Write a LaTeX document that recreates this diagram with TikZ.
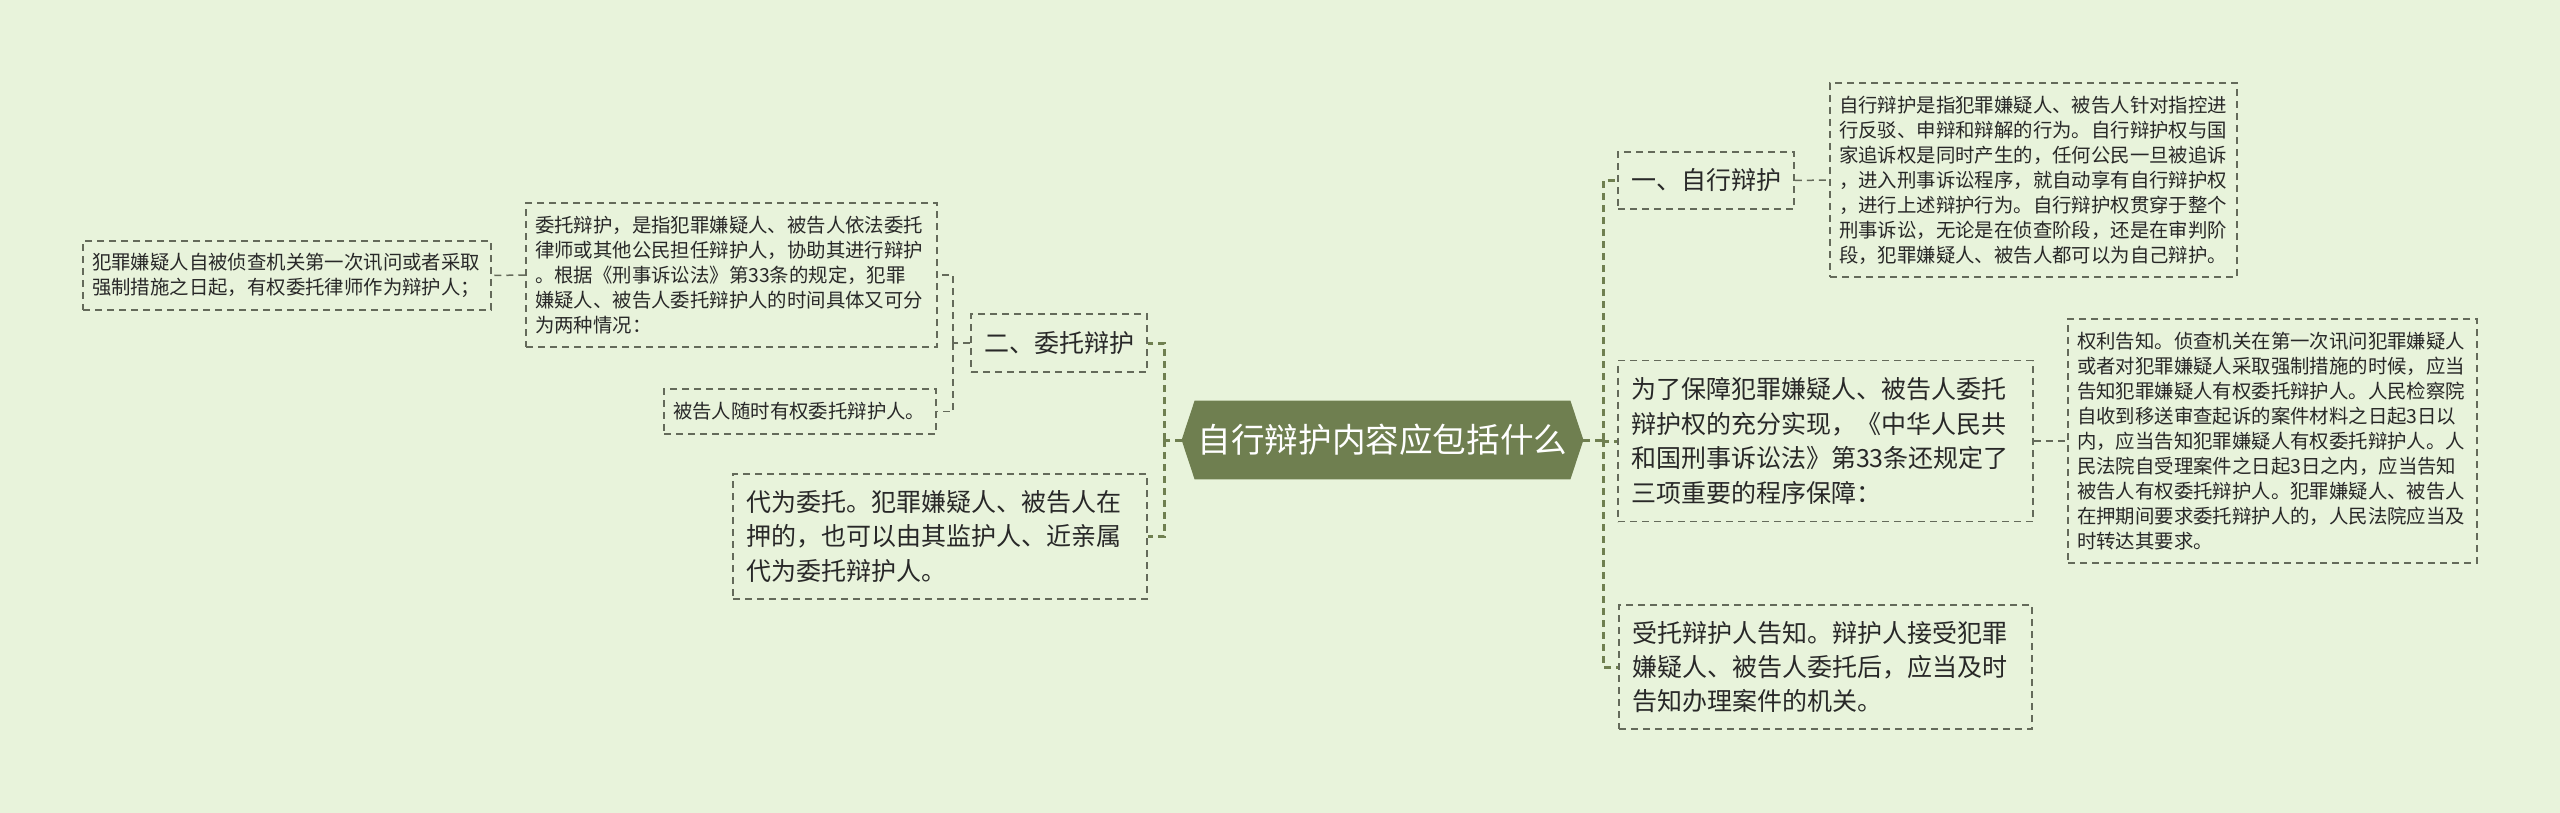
\documentclass[tikz,border=0pt]{standalone}
\usepackage{fontspec}
\newfontfamily\cjk{Noto Sans CJK SC}
\usetikzlibrary{backgrounds}
\definecolor{bgc}{RGB}{232,243,219}
\definecolor{rootc}{RGB}{111,127,80}
\definecolor{trunkc}{RGB}{111,127,80}
\definecolor{boxc}{RGB}{100,106,90}
\definecolor{txt}{RGB}{40,40,40}
\tikzset{
  box/.style={draw=boxc, dash pattern=on 3.5pt off 2.5pt, line width=0.75pt, align=left, inner xsep=4.5pt, inner ysep=0pt, text=txt, font=\cjk\fontsize{9.7pt}{12.5pt}\selectfont},
  bigbox/.style={box, inner xsep=6.5pt, font=\cjk\fontsize{12.5pt}{17.2pt}\selectfont},
  titlebox/.style={box, align=center, inner xsep=0pt, font=\cjk\fontsize{12.5pt}{15pt}\selectfont},
  rootnode/.style={inner sep=0pt, text=white, font=\cjk\fontsize{16.8pt}{20pt}\selectfont},
  trunk/.style={draw=trunkc, line width=1.5pt, dash pattern=on 3.5pt off 2.5pt},
  link/.style={draw=boxc, line width=0.75pt, dash pattern=on 3.5pt off 2.5pt},
}
\begin{document}
\begin{tikzpicture}[x=0.5pt,y=-0.5pt]
\useasboundingbox (0,0) rectangle (2560,813);
% root
\node[rootnode, minimum width=200.5pt, minimum height=39pt] (root) at (1382.5,440) {自行辩护内容应包括什么};
% right side
\node[titlebox, minimum width=88pt, minimum height=28.5pt] (n1) at (1706,180.5) {一、自行辩护};
\node[box, minimum width=203.5pt, minimum height=97pt, text width=194.5pt] (desc1) at (2033.5,180) {自行辩护是指犯罪嫌疑人、被告人针对指控进\\行反驳、申辩和辩解的行为。自行辩护权与国\\家追诉权是同时产生的，任何公民一旦被追诉\\，进入刑事诉讼程序，就自动享有自行辩护权\\，进行上述辩护行为。自行辩护权贯穿于整个\\刑事诉讼，无论是在侦查阶段，还是在审判阶\\段，犯罪嫌疑人、被告人都可以为自己辩护。};
\node[bigbox, minimum width=207.5pt, minimum height=80.5pt, text width=194.5pt] (baozhang) at (1825.5,441) {为了保障犯罪嫌疑人、被告人委托\\辩护权的充分实现，《中华人民共\\和国刑事诉讼法》第33条还规定了\\三项重要的程序保障：};
\node[box, minimum width=204.5pt, minimum height=122pt, text width=195.5pt] (quanli) at (2272.5,441) {权利告知。侦查机关在第一次讯问犯罪嫌疑人\\或者对犯罪嫌疑人采取强制措施的时候，应当\\告知犯罪嫌疑人有权委托辩护人。人民检察院\\自收到移送审查起诉的案件材料之日起3日以\\内，应当告知犯罪嫌疑人有权委托辩护人。人\\民法院自受理案件之日起3日之内，应当告知\\被告人有权委托辩护人。犯罪嫌疑人、被告人\\在押期间要求委托辩护人的，人民法院应当及\\时转达其要求。};
\node[bigbox, minimum width=206.5pt, minimum height=62pt, text width=193.5pt] (shoutuo) at (1825.5,667) {受托辩护人告知。辩护人接受犯罪\\嫌疑人、被告人委托后，应当及时\\告知办理案件的机关。};
% left side
\node[titlebox, minimum width=88pt, minimum height=29pt] (n2) at (1059,343) {二、委托辩护};
\node[bigbox, minimum width=207pt, minimum height=62.5pt, text width=194pt] (daiwei) at (940,536.5) {代为委托。犯罪嫌疑人、被告人在\\押的，也可以由其监护人、近亲属\\代为委托辩护人。};
\node[box, minimum width=205.5pt, minimum height=72pt, text width=196.5pt] (weituo) at (731.5,275) {委托辩护，是指犯罪嫌疑人、被告人依法委托\\律师或其他公民担任辩护人，协助其进行辩护\\。根据《刑事诉讼法》第33条的规定，犯罪\\嫌疑人、被告人委托辩护人的时间具体又可分\\为两种情况：};
\node[box, minimum width=136pt, minimum height=22.5pt, text width=127pt] (beigao) at (800,411.5) {被告人随时有权委托辩护人。};
\node[box, minimum width=204pt, minimum height=34.5pt, text width=195pt] (fanzui) at (287,275.5) {犯罪嫌疑人自被侦查机关第一次讯问或者采取\\强制措施之日起，有权委托律师作为辩护人；};
% junctions
\coordinate (Rt) at (1603,440);
\coordinate (Lt) at (1164,440);
\coordinate (L2) at (953,343);
% trunk connectors
\draw[trunk] (root.east) -- (Rt);
\draw[trunk] (Rt) |- (n1.west);
\draw[trunk] (Rt) |- (baozhang.west);
\draw[trunk] (Rt) |- (shoutuo.west);
\draw[trunk] (root.west) -- (Lt);
\draw[trunk] (Lt) |- (n2.east);
\draw[trunk] (Lt) |- (daiwei.east);
% second level connectors
\draw[link] (n1.east) -- (desc1.west);
\draw[link] (baozhang.east) -- (quanli.west);
\draw[link] (n2.west) -- (L2);
\draw[link] (L2) |- (weituo.east);
\draw[link] (L2) |- (beigao.east);
\draw[link] (weituo.west) -- (fanzui.east);
% background and root shape
\begin{scope}[on background layer]
\fill[bgc] (0,0) rectangle (2560,813);
\fill[rootc] (root.west) -- ([xshift=6.5pt]root.north west) -- ([xshift=-6.5pt]root.north east) -- (root.east) -- ([xshift=-6.5pt]root.south east) -- ([xshift=6.5pt]root.south west) -- cycle;
\end{scope}
\end{tikzpicture}
\end{document}
